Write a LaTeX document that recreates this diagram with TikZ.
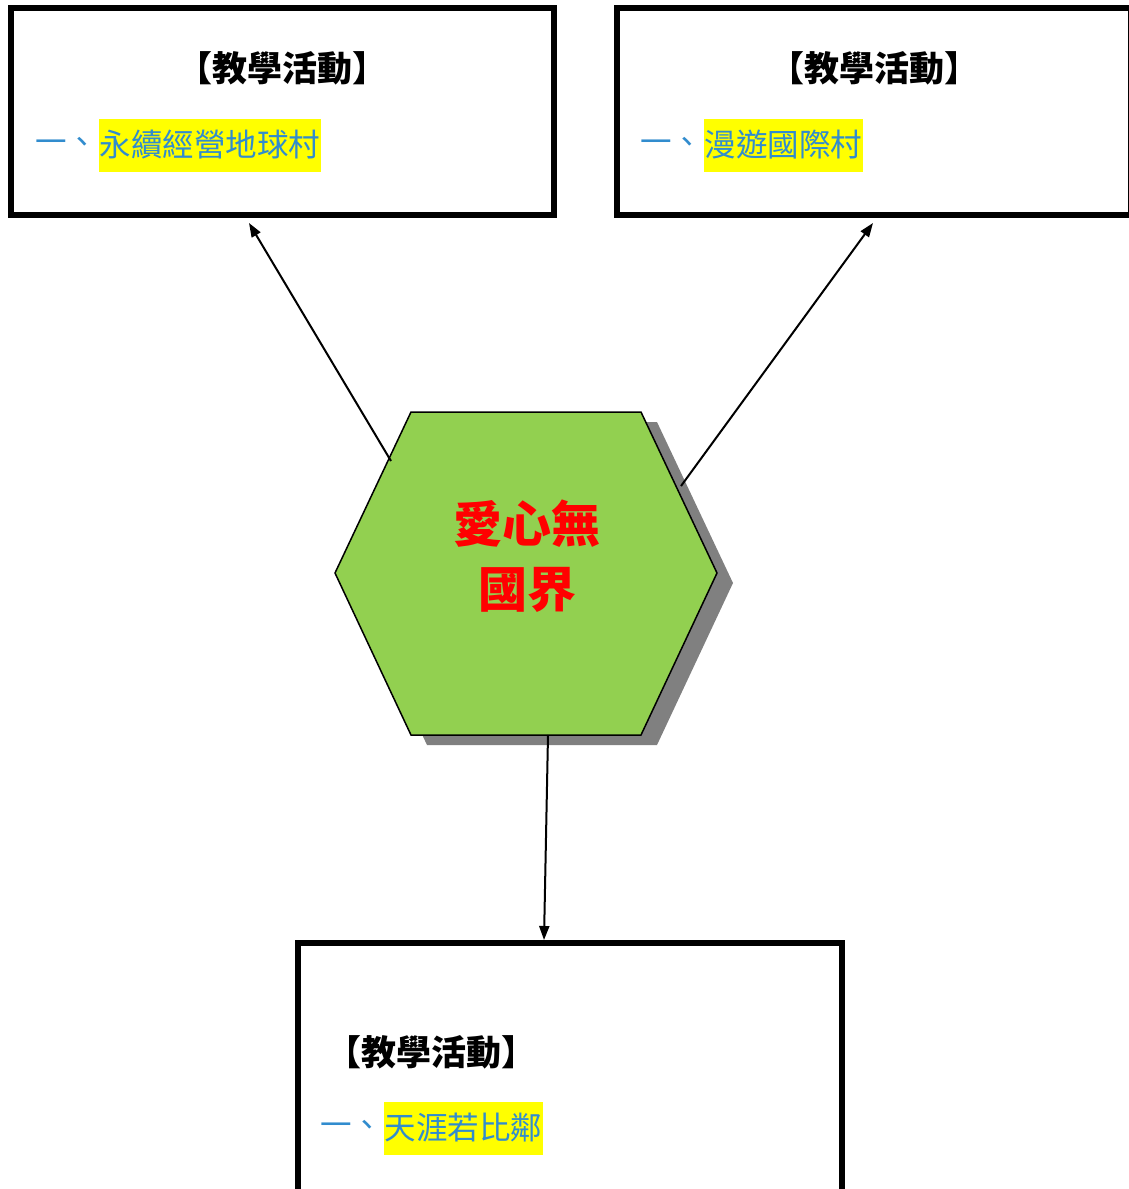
\documentclass[tikz,border=0pt]{standalone}
\usepackage{fontspec}
\newfontfamily\cjk{Noto Sans CJK TC}
\usetikzlibrary{arrows.meta}
\definecolor{hexgreen}{RGB}{146,208,80}
\definecolor{shadowgray}{RGB}{128,128,128}
\definecolor{itemblue}{RGB}{49,140,206}
\definecolor{hiyellow}{RGB}{255,255,0}
\tikzset{
  actbox/.style={draw=black, line width=6pt, fill=white, inner sep=0pt},
  titletext/.style={font=\cjk\bfseries\fontsize{35}{40}\selectfont, text=black, inner sep=0pt},
  prefixtext/.style={font=\cjk\fontsize{31.5}{38}\selectfont, text=itemblue, inner sep=0pt},
  hitext/.style={font=\cjk\fontsize{31.5}{38}\selectfont, text=itemblue, fill=hiyellow, inner xsep=1pt, inner ysep=0pt, minimum height=53pt},
  link/.style={draw=black, line width=2pt, -{Triangle[length=14pt,width=10pt]}},
}
\begin{document}
\begin{tikzpicture}[x=1pt,y=-1pt]
\useasboundingbox (0,0) rectangle (1129,1189);
\clip (0,0) rectangle (1129,1189);
% boxes
\node[actbox, minimum width=543pt, minimum height=207pt] (b1) at (282.5,111.5) {};
\node[actbox, minimum width=514pt, minimum height=207pt] (b2) at (874,111.5) {};
\node[actbox, minimum width=544pt, minimum height=360pt] (b3) at (570,1123) {};
% box texts
\node[titletext] (t1) at (282.5,68) {【教學活動】};
\node[prefixtext, anchor=west] (p1) at (35,145) {一、};
\node[hitext, anchor=west] (h1) at (p1.east) {永續經營地球村};
\node[titletext] (t2) at (874,68) {【教學活動】};
\node[prefixtext, anchor=west] (p2) at (640,145) {一、};
\node[hitext, anchor=west] (h2) at (p2.east) {漫遊國際村};
\node[titletext, anchor=west] (t3) at (326,1052) {【教學活動】};
\node[prefixtext, anchor=west] (p3) at (320,1128) {一、};
\node[hitext, anchor=west] (h3) at (p3.east) {天涯若比鄰};
% hexagon
\coordinate (hA) at (411,412);
\coordinate (hB) at (641,412);
\coordinate (hC) at (717,573);
\coordinate (hD) at (641,735);
\coordinate (hE) at (411,735);
\coordinate (hF) at (335,573);
\fill[shadowgray] ([shift={(16,10)}]hA) -- ([shift={(16,10)}]hB) -- ([shift={(16,10)}]hC) -- ([shift={(16,10)}]hD) -- ([shift={(16,10)}]hE) -- ([shift={(16,10)}]hF) -- cycle;
\filldraw[fill=hexgreen, draw=black, line width=1.5pt, line join=miter] (hA) -- (hB) -- (hC) -- (hD) -- (hE) -- (hF) -- cycle;
\node[font=\cjk\bfseries\fontsize{49}{65}\selectfont, text=red, align=center, inner sep=0pt] (hex) at (527,556) {愛心無\\國界};
% connectors
\coordinate (s1) at (391,461);
\coordinate (s2) at (681,486);
\coordinate (s3) at (548,735);
\coordinate (e1) at (249,223);
\coordinate (e2) at (873,223);
\coordinate (e3) at (544,940);
\draw[link] (s1) -- (e1);
\draw[link] (s2) -- (e2);
\draw[link] (s3) -- (e3);
\end{tikzpicture}
\end{document}
